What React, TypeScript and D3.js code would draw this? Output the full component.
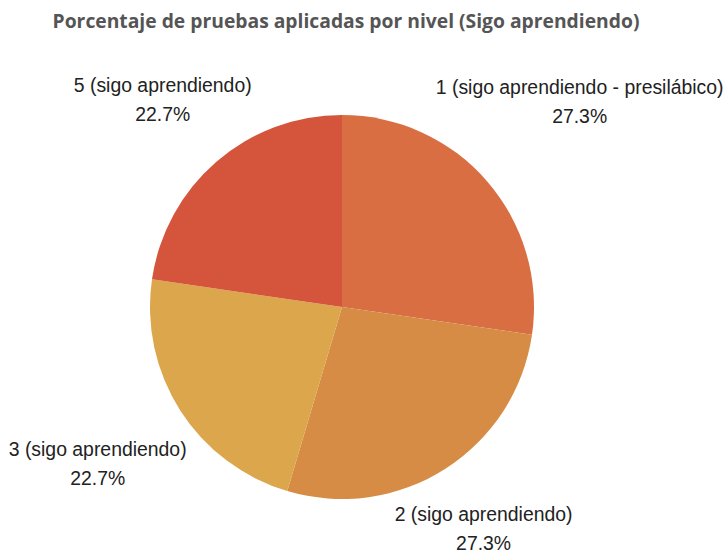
import React, { useEffect, useRef } from "react";
import * as d3 from "d3";

const categories = [
  "1 (sigo aprendiendo - presilábico)",
  "2 (sigo aprendiendo)",
  "3 (sigo aprendiendo)",
  "5 (sigo aprendiendo)",
];
const values = [27.3, 27.3, 22.7, 22.7];
const colors = ["#D96E42", "#D68C44", "#DCA64C", "#D4553B"];
const title = "Porcentaje de pruebas aplicadas por nivel (Sigo aprendiendo)";

export default function App() {
  const ref = useRef<SVGSVGElement>(null);
  useEffect(() => {
    const node = ref.current; if (!node) return;
    const w = 725, h = 550, cx = 342, cy = 307, r = 192, gap = 11;
    const svg = d3.select(node);
    svg.selectAll("*").remove();
    svg.append("text").attr("x", 346).attr("y", 28).attr("text-anchor", "middle")
      .attr("font-family", "'Open Sans'").attr("font-weight", 700).attr("font-size", 19.3)
      .attr("fill", "#555").text(title);

    const data = categories.map((c, i) => ({ c, v: values[i], col: colors[i] }));
    const pie = d3.pie<any>().sort(null).value((d) => d.v);
    const arc = d3.arc<any>().innerRadius(0).outerRadius(r);
    const arcs = pie(data);
    const g = svg.append("g").attr("transform", `translate(${cx},${cy})`);
    g.selectAll("path").data(arcs).join("path").attr("d", arc).attr("fill", (d) => d.data.col);

    arcs.forEach((a) => {
      const mid = (a.startAngle + a.endAngle) / 2;
      const ux = Math.sin(mid), uy = -Math.cos(mid);
      const t = g.append("text").attr("text-anchor", "middle")
        .attr("font-family", "'Liberation Sans', Arial, sans-serif").attr("font-size", 19.4).attr("fill", "#222");
      t.append("tspan").attr("x", 0).attr("y", 0).text(a.data.c);
      t.append("tspan").attr("x", 0).attr("y", 29).text(`${a.data.v.toFixed(1)}%`);
      const bb = (t.node() as SVGTextElement).getBBox();
      const bw = bb.width, bh = bb.height, ox = bb.x + bw / 2, oy = bb.y + bh / 2;
      // slide the label box out along the mid-angle until it clears the circle
      const dist = (s: number) => {
        const bx = s * ux, by = s * uy;
        const dx = Math.max(Math.abs(bx) - bw / 2, 0), dy = Math.max(Math.abs(by) - bh / 2, 0);
        return Math.hypot(dx, dy);
      };
      let lo = 0, hi = 1000;
      for (let k = 0; k < 60; k++) { const m = (lo + hi) / 2; if (dist(m) < r + gap) lo = m; else hi = m; }
      t.attr("transform", `translate(${hi * ux - ox},${hi * uy - oy})`);
    });
    svg.attr("viewBox", `0 0 ${w} ${h}`);
  }, []);
  return (
    <svg ref={ref} width={725} height={550}
      style={{ position: "absolute", left: 0, top: 0, background: "#fff" }} />
  );
}
